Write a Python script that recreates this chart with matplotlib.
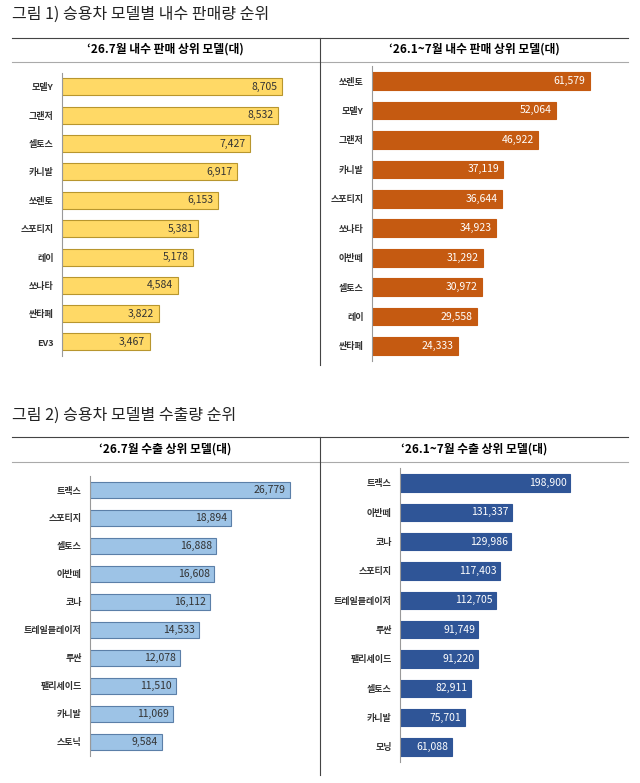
import matplotlib.pyplot as plt
from matplotlib.lines import Line2D

plt.rcParams['font.family'] = ['Noto Sans CJK KR', 'DejaVu Sans']

W, H = 640, 783

# 데이터
m1_models = ["모델Y", "그랜저", "셀토스", "카니발", "쏘렌토", "스포티지", "레이", "쏘나타", "싼타페", "EV3"]
m1_values = [8705, 8532, 7427, 6917, 6153, 5381, 5178, 4584, 3822, 3467]
y1_models = ["쏘렌토", "모델Y", "그랜저", "카니발", "스포티지", "쏘나타", "아반떼", "셀토스", "레이", "싼타페"]
y1_values = [61579, 52064, 46922, 37119, 36644, 34923, 31292, 30972, 29558, 24333]
m2_models = ["트랙스", "스포티지", "셀토스", "아반떼", "코나", "트레일블레이저", "투싼", "팰리세이드", "카니발", "스토닉"]
m2_values = [26779, 18894, 16888, 16608, 16112, 14533, 12078, 11510, 11069, 9584]
y2_models = ["트랙스", "아반떼", "코나", "스포티지", "트레일블레이저", "투싼", "팰리세이드", "셀토스", "카니발", "모닝"]
y2_values = [198900, 131337, 129986, 117403, 112705, 91749, 91220, 82911, 75701, 61088]

fig = plt.figure(figsize=(W / 100, H / 100), dpi=100)
fig.patch.set_facecolor("white")


def px(x, y):
    return x / W, 1 - y / H


def hline(y, x0=12, x1=628, color="#444444", lw=0.8):
    fig.add_artist(Line2D([x0 / W, x1 / W], [1 - y / H, 1 - y / H], color=color, lw=lw))


def vline(x, y0, y1):
    fig.add_artist(Line2D([x / W, x / W], [1 - y0 / H, 1 - y1 / H], color="#444444", lw=0.8))


def panel(models, values, ax_x, bar_end, y_top, y_bot, color, edge, txtcolor):
    # y_top, y_bot: 첫/마지막 막대 중심 (px)
    n = len(models)
    step = (y_bot - y_top) / (n - 1)
    top = y_top - step * 0.5
    bot = y_bot + step * 0.5
    ax_w = (bar_end - ax_x) * 1.15
    ax = fig.add_axes([ax_x / W, 1 - bot / H, ax_w / W, (bot - top) / H])
    ys = list(range(n))
    ax.barh(ys, values, height=0.6, color=color, edgecolor=edge, linewidth=0.8)
    ax.set_ylim(n - 0.5, -0.5)
    ax.set_xlim(0, max(values) * 1.15)
    ax.set_yticks(ys)
    ax.set_yticklabels(models, fontsize=6.5, fontweight="bold", color="#333333")
    ax.tick_params(axis="y", length=0, pad=6)
    ax.set_xticks([])
    for s in ["top", "right", "bottom"]:
        ax.spines[s].set_visible(False)
    ax.spines["left"].set_color("#999999")
    for y, v in zip(ys, values):
        ax.text(v - max(values) * 0.02, y, f"{v:,}", ha="right", va="center",
                fontsize=7.5, color=txtcolor)
    ax.patch.set_alpha(0)
    return ax


# 그림 1
fig.text(12 / W, 1 - 14 / H, "그림 1) 승용차 모델별 내수 판매량 순위", fontsize=11.5,
         va="center", ha="left", color="#222222")
hline(38)
hline(62, color="#aaaaaa")
vline(320, 38, 365)
fig.text(165 / W, 1 - 49 / H, "‘26.7월 내수 판매 상위 모델(대)", fontsize=8.5, fontweight="bold",
         ha="center", va="center")
fig.text(474 / W, 1 - 49 / H, "‘26.1~7월 내수 판매 상위 모델(대)", fontsize=8.5, fontweight="bold",
         ha="center", va="center")
panel(m1_models, m1_values, 62, 282, 87, 342, "#FFD966", "#B8962E", "#333333")
panel(y1_models, y1_values, 372, 590, 81, 346, "#C55A11", "#C55A11", "white")

# 그림 2
fig.text(12 / W, 1 - 415 / H, "그림 2) 승용차 모델별 수출량 순위", fontsize=11.5,
         va="center", ha="left", color="#222222")
hline(437)
hline(462, color="#aaaaaa")
vline(320, 437, 775)
fig.text(165 / W, 1 - 449 / H, "‘26.7월 수출 상위 모델(대)", fontsize=8.5, fontweight="bold",
         ha="center", va="center")
fig.text(474 / W, 1 - 449 / H, "‘26.1~7월 수출 상위 모델(대)", fontsize=8.5, fontweight="bold",
         ha="center", va="center")
panel(m2_models, m2_values, 90, 290, 490, 742, "#9DC3E6", "#5B7FA8", "#333333")
panel(y2_models, y2_values, 400, 570, 483, 747, "#2F5597", "#2F5597", "white")

fig.savefig("out.png", dpi=100)
